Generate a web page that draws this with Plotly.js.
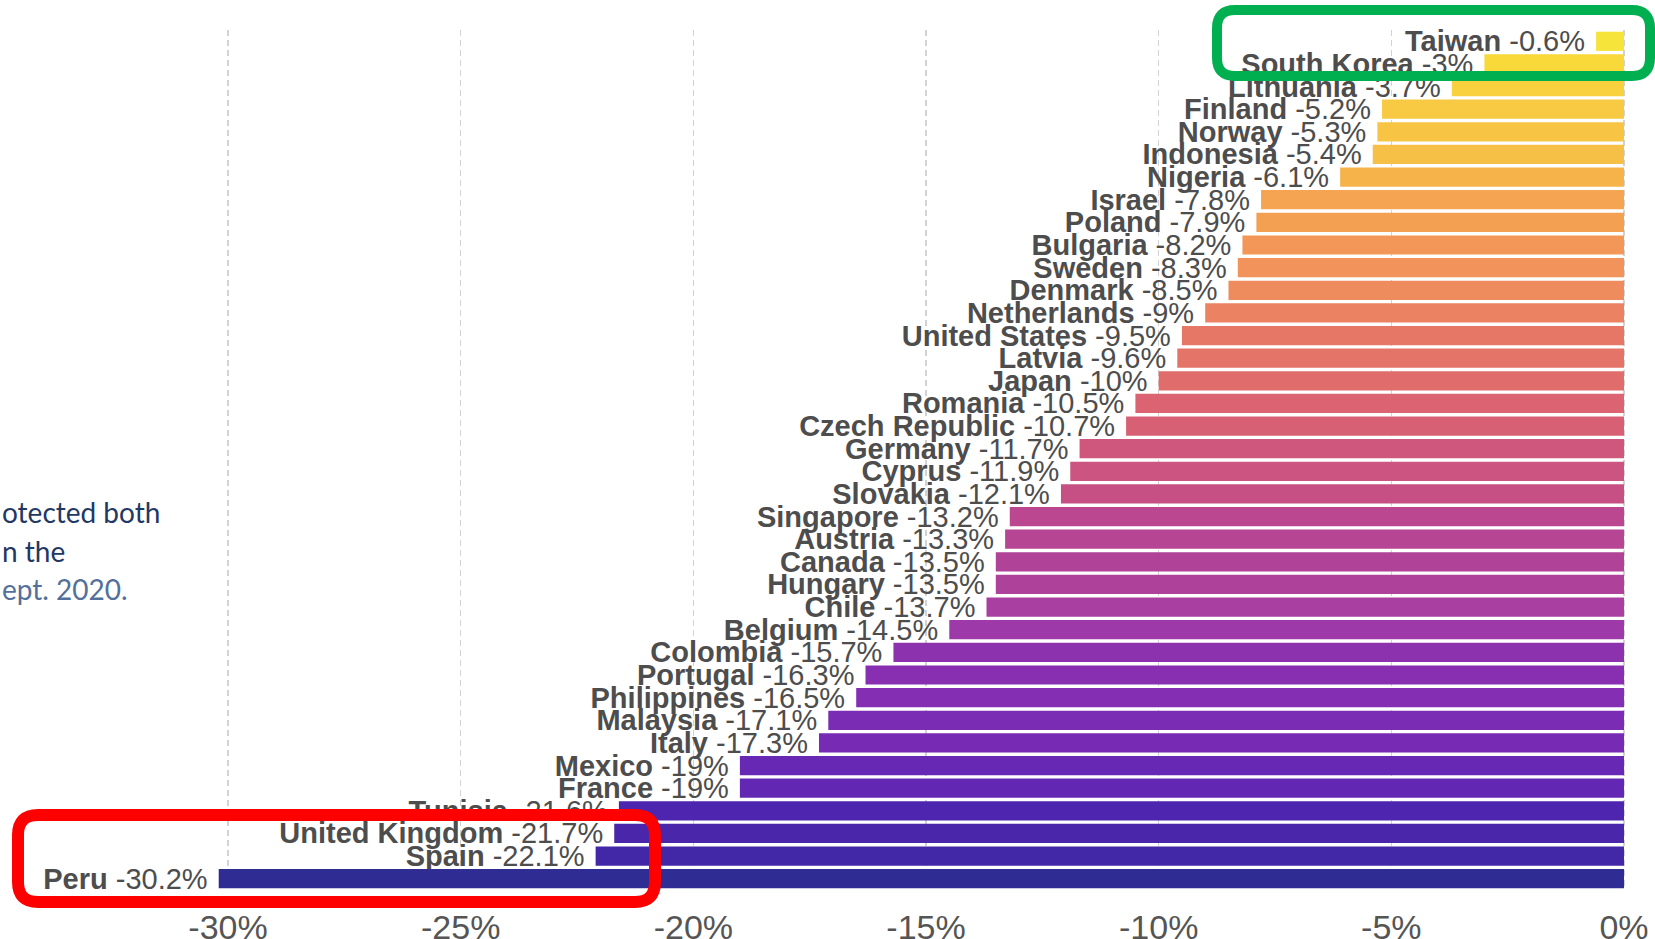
<!DOCTYPE html>
<html>
<head>
<meta charset="utf-8">
<script src="https://cdn.plot.ly/plotly-3.0.1.min.js"></script>
<style>
  html, body { margin: 0; padding: 0; background: #ffffff; }
  #chart { width: 1655px; height: 939px; }
</style>
</head>
<body>
<div id="chart"></div>
<script>
// ---- data ----
const countries = ["Taiwan", "South Korea", "Lithuania", "Finland", "Norway", "Indonesia", "Nigeria",
  "Israel", "Poland", "Bulgaria", "Sweden", "Denmark", "Netherlands", "United States", "Latvia", "Japan",
  "Romania", "Czech Republic", "Germany", "Cyprus", "Slovakia", "Singapore", "Austria", "Canada", "Hungary",
  "Chile", "Belgium", "Colombia", "Portugal", "Philippines", "Malaysia", "Italy", "Mexico", "France",
  "Tunisia", "United Kingdom", "Spain", "Peru"];
const changes = [-0.6, -3, -3.7, -5.2, -5.3, -5.4, -6.1,
  -7.8, -7.9, -8.2, -8.3, -8.5, -9, -9.5, -9.6, -10,
  -10.5, -10.7, -11.7, -11.9, -12.1, -13.2, -13.3, -13.5, -13.5,
  -13.7, -14.5, -15.7, -16.3, -16.5, -17.1, -17.3, -19, -19,
  -21.6, -21.7, -22.1, -30.2];
const tickValues = [-30, -25, -20, -15, -10, -5, 0];
const tickLabels = ["-30%", "-25%", "-20%", "-15%", "-10%", "-5%", "0%"];
const sideTextLines = ["otected both", "n the", "ept. 2020."];

// ---- styles ----
const barColors = ["#f6e43a", "#f9d939", "#f9d03e", "#f8c942", "#f7c444", "#f6bf46", "#f5b34a",
  "#f5a452", "#f4a053", "#f29757", "#f1935a", "#ef8c5d", "#eb8262", "#e67666", "#e47468", "#e06c6c",
  "#dc6472", "#d86075", "#cf577d", "#cb5480", "#c65084", "#ba4790", "#b64594", "#b04298", "#ae419a",
  "#a93fa0", "#9d39a8", "#8d32af", "#882fb1", "#842eb3", "#7a2cb4", "#772bb4", "#6729b4", "#6328b3",
  "#4d25ae", "#4a26ab", "#4227a6", "#2f2c93"];
const sideTextColors = ["#1f3864", "#1f3864", "#52709a"];

const W = 1655, H = 939, MT = 30, MB = 49;
const PB = H - MB, PH = H - MT - MB;
const px2x = p => p / W;
const px2y = p => (PB - p) / PH;

function roundRect(x0, y0, x1, y1, r) {
  const X = px2x, Y = px2y;
  return `M ${X(x0 + r)},${Y(y0)} L ${X(x1 - r)},${Y(y0)} Q ${X(x1)},${Y(y0)} ${X(x1)},${Y(y0 + r)} ` +
    `L ${X(x1)},${Y(y1 - r)} Q ${X(x1)},${Y(y1)} ${X(x1 - r)},${Y(y1)} ` +
    `L ${X(x0 + r)},${Y(y1)} Q ${X(x0)},${Y(y1)} ${X(x0)},${Y(y1 - r)} ` +
    `L ${X(x0)},${Y(y0 + r)} Q ${X(x0)},${Y(y0)} ${X(x0 + r)},${Y(y0)} Z`;
}

const labels = countries.map((c, i) => `<b>${c}</b> ${changes[i]}%\u00a0`);

const trace = {
  type: "bar",
  orientation: "h",
  x: changes,
  y: countries,
  marker: { color: barColors, line: { width: 0 } },
  text: labels,
  textposition: "outside",
  textangle: 0,
  constraintext: "none",
  cliponaxis: false,
  outsidetextfont: { family: "Liberation Sans, Arial, sans-serif", size: 29, color: "#4d4d4d" },
  hoverinfo: "none"
};

const sideY = [512, 551, 589];
const annotations = sideTextLines.map((t, i) => ({
  xref: "paper", yref: "paper", x: 0, y: px2y(sideY[i]),
  xanchor: "left", yanchor: "middle", showarrow: false, text: t,
  font: { family: "Lato, Noto Sans, sans-serif", size: 28, color: sideTextColors[i] }
}));

const layout = {
  width: W, height: H,
  margin: { l: 0, r: 0, t: MT, b: MB, pad: 0 },
  paper_bgcolor: "#ffffff", plot_bgcolor: "#ffffff",
  showlegend: false,
  bargap: 0.15,
  xaxis: {
    range: [-34.9, 0.666],
    tickmode: "array", tickvals: tickValues, ticktext: tickLabels,
    showgrid: true, gridcolor: "#d2d2d2", gridwidth: 1.5, griddash: "6px,4px",
    zeroline: false, showline: false, ticks: "",
    ticklabelstandoff: 14,
    tickfont: { family: "Liberation Sans, Arial, sans-serif", size: 34, color: "#555555" },
    fixedrange: true
  },
  yaxis: {
    type: "category", autorange: "reversed",
    showticklabels: false, showgrid: false, zeroline: false, showline: false, ticks: "",
    fixedrange: true
  },
  annotations: annotations,
  shapes: [
    { type: "path", xref: "paper", yref: "paper", layer: "above",
      path: roundRect(1217, 10, 1650, 76, 18), line: { color: "#00b050", width: 10 } },
    { type: "path", xref: "paper", yref: "paper", layer: "above",
      path: roundRect(18, 815, 655, 902, 20), line: { color: "#ff0000", width: 12 } }
  ]
};

Plotly.newPlot("chart", [trace], layout, { displayModeBar: false, staticPlot: true });
</script>
</body>
</html>
